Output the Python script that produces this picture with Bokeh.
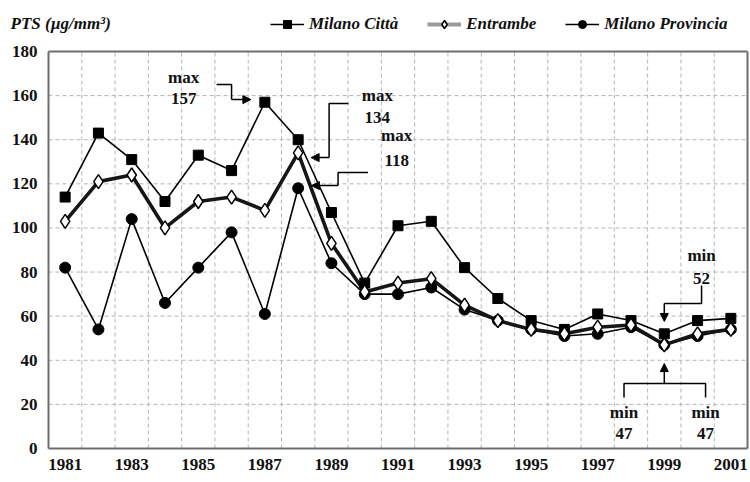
from bokeh.plotting import figure
from bokeh.models import (ColumnDataSource, FixedTicker, Range1d, Legend, LegendItem,
                          Label, Arrow, NormalHead)
from bokeh.core.properties import value
from bokeh.embed import file_html
from bokeh.resources import INLINE

# ---------------- data ----------------
years = list(range(1981, 2002))
citta = [114, 143, 131, 112, 133, 126, 157, 140, 107, 75, 101, 103, 82, 68, 58, 54, 61, 58, 52, 58, 59]
entrambe = [103, 121, 124, 100, 112, 114, 108, 134, 93, 71, 75, 77, 65, 58, 54, 52, 55, 56, 47, 52, 54]
provincia = [82, 54, 104, 66, 82, 98, 61, 118, 84, 70, 70, 73, 63, 58, 54, 51, 52, 55, 47, 51, 54]
x_tick_years = [1981, 1983, 1985, 1987, 1989, 1991, 1993, 1995, 1997, 1999, 2001]
y_ticks = [0, 20, 40, 60, 80, 100, 120, 140, 160, 180]
unit_label = "PTS (µg/mm³)"
series_names = ["Milano Città", "Entrambe", "Milano Provincia"]

FONT = "Liberation Serif"
AX = "#6e6e6e"
TXT = "#111111"

# ---------------- layout (pixels) ----------------
W, H = 750, 482
BOX_L, BOX_R, BOX_T, BOX_B = 48, 747, 51, 448      # plot box on the canvas
x0, x1 = years[0] - 0.5, years[-1] + 0.5            # category band edges
y0, y1 = y_ticks[0], y_ticks[-1]
pxx = (BOX_R - BOX_L) / (x1 - x0)
pxy = (BOX_B - BOX_T) / (y1 - y0)
x_range = Range1d(x0 - BOX_L / pxx, x1 + (W - BOX_R) / pxx)
y_range = Range1d(y0 - (H - BOX_B) / pxy, y1 + BOX_T / pxy)

p = figure(width=W, height=H, output_backend="svg", toolbar_location=None, title=None,
           x_range=x_range, y_range=y_range,
           min_border_left=0, min_border_right=0, min_border_top=0, min_border_bottom=0)
p.outline_line_color = None
p.background_fill_color = "white"
p.xgrid.visible = False
p.ygrid.visible = False

# axes drawn at the plot-box edges
p.xaxis.ticker = FixedTicker(ticks=x_tick_years)
p.yaxis.ticker = FixedTicker(ticks=y_ticks)
p.xaxis.fixed_location = y0
p.yaxis.fixed_location = x0
p.xaxis.bounds = (x0, x1)
p.yaxis.bounds = (y0, y1)
for ax in (p.xaxis, p.yaxis):
    ax.axis_line_color = AX
    ax.axis_line_width = 2
    ax.major_tick_line_color = None
    ax.minor_tick_line_color = None
    ax.major_tick_out = 0
    ax.major_tick_in = 0
    ax.major_label_text_font = FONT
    ax.major_label_text_font_style = "bold"
    ax.major_label_text_font_size = "17px"
    ax.major_label_text_color = TXT
p.yaxis.major_label_standoff = 11
p.xaxis.major_label_standoff = 10

# dashed grid inside the box
gx = [y + 0.5 for y in years[:-1]]
p.segment(x0=gx, y0=[y0] * len(gx), x1=gx, y1=[y1] * len(gx),
          line_color="#b4b4b4", line_dash="4 3", line_width=1)
gy = y_ticks[1:-1]
p.segment(x0=[x0] * len(gy), y0=gy, x1=[x1] * len(gy), y1=gy,
          line_color="#b4b4b4", line_dash="4 3", line_width=1)
# top and right edges of the box
p.segment(x0=[x0, x1], y0=[y1, y0], x1=[x1, x1], y1=[y1, y1], line_color=AX, line_width=2)

src = ColumnDataSource(dict(year=years, citta=citta, entrambe=entrambe, provincia=provincia))

l_prov = p.line("year", "provincia", source=src, line_color="black", line_width=1.6)
l_citta = p.line("year", "citta", source=src, line_color="black", line_width=1.6)
l_entr = p.line("year", "entrambe", source=src, line_color="#161616", line_width=3.6)
s_citta = p.scatter("year", "citta", source=src, marker="square", size=10,
                    fill_color="black", line_color="black")
s_prov = p.scatter("year", "provincia", source=src, marker="circle", size=11,
                   fill_color="black", line_color="black")
s_entr = p.scatter("year", "entrambe", source=src, marker="diamond", size=14,
                   fill_color="white", line_color="black", line_width=1.5)
# key-only grey band for "Entrambe" (placed outside the visible x range)
l_entr_key = p.line(x=[years[0] - 20, years[0] - 19], y=[y0, y0], line_color="#9a9a9a", line_width=4)

legend = Legend(items=[
    LegendItem(label=series_names[0], renderers=[l_citta, s_citta]),
    LegendItem(label=series_names[1], renderers=[l_entr_key, s_entr]),
    LegendItem(label=series_names[2], renderers=[l_prov, s_prov]),
], orientation="horizontal", location=(270, H - 34))
legend.background_fill_alpha = 0
legend.border_line_color = None
legend.padding = 0
legend.margin = 0
legend.spacing = 29
legend.glyph_width = 34
legend.glyph_height = 20
legend.label_height = 20
legend.label_standoff = 5
legend.label_text_font = FONT
legend.label_text_font_style = "bold italic"
legend.label_text_font_size = "17px"
legend.label_text_color = TXT
p.add_layout(legend)

p.add_layout(Label(x=10, y=H - 23, x_units="screen", y_units="screen", text=unit_label,
                   text_font=FONT, text_font_style="bold italic", text_font_size="17px",
                   text_baseline="middle", text_color=TXT))

# ---------------- annotations (anchored on the data) ----------------
i_cmax = citta.index(max(citta))
i_emax = entrambe.index(max(entrambe))
i_pmax = provincia.index(max(provincia))
i_cmin = citta.index(min(citta))
i_emin = entrambe.index(min(entrambe))
i_pmin = provincia.index(min(provincia))

annots = [
    (years[i_cmax], citta[i_cmax], [(-1.45, 8), (-1.0, 8), (-1.0, 1.2)], ((-1.0, 1.2), (-0.42, 1.2)),
     [(-2.44, 11.2, "max"), (-2.44, 1.7, str(citta[i_cmax]))]),
    (years[i_emax], entrambe[i_emax], [(1.51, 22.4), (0.93, 22.4), (0.93, -2.1)], ((0.93, -2.1), (0.39, -2.1)),
     [(2.38, 26, "max"), (2.38, 16, str(entrambe[i_emax]))]),
    (years[i_pmax], provincia[i_pmax], [(2.1, 7.1), (1.2, 7.1), (1.2, 1.2)], ((1.2, 1.2), (0.4, 1.2)),
     [(2.96, 23.9, "max"), (2.96, 12.6, str(provincia[i_pmax]))]),
    (years[i_cmin], citta[i_cmin], [(1.12, 21.9), (1.12, 13.7), (0, 13.7)], ((0, 13.7), (0, 5.6)),
     [(1.12, 35.5, "min"), (1.12, 25.1, str(citta[i_cmin]))]),
    (years[i_emin], entrambe[i_emin], [(-1.21, -23.9), (-1.21, -17.5), (1.24, -17.5), (1.24, -23.9)],
     ((0, -17.5), (0, -8.5)),
     [(-1.21, -30.7, "min"), (-1.21, -40.2, str(entrambe[i_emin])),
      (1.24, -30.7, "min"), (1.24, -40.2, str(provincia[i_pmin]))]),
]

xs, ys = [], []
tx, ty, tt = [], [], []
for ax_, ay_, path, arr, texts in annots:
    xs.append([ax_ + dx for dx, dy in path])
    ys.append([ay_ + dy for dx, dy in path])
    (fx, fy), (ex, ey) = arr
    p.add_layout(Arrow(x_start=ax_ + fx, y_start=ay_ + fy, x_end=ax_ + ex, y_end=ay_ + ey,
                       line_color="black", line_width=1.5,
                       end=NormalHead(size=8, fill_color="black", line_color="black")))
    for dx, dy, t in texts:
        tx.append(ax_ + dx)
        ty.append(ay_ + dy)
        tt.append(t)

p.multi_line(xs=xs, ys=ys, line_color="black", line_width=1.5)
p.text(x=tx, y=ty, text=tt, text_font=value(FONT), text_font_style="bold",
       text_font_size="17px", text_align="center", text_baseline="middle", text_color=TXT)

open("out.html", "w").write(file_html(p, INLINE))
